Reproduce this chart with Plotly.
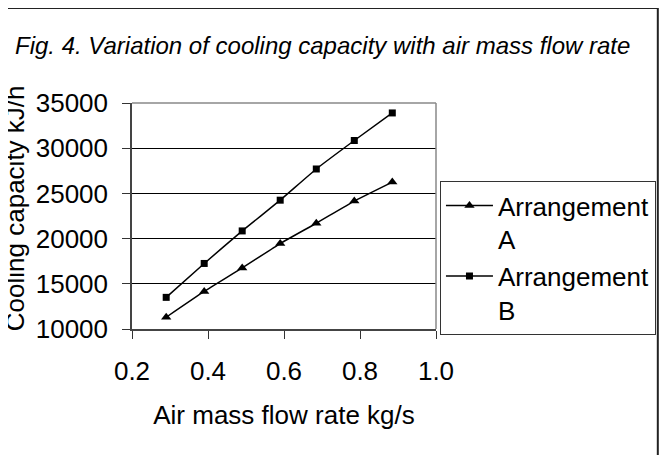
import plotly.graph_objects as go

# Data
flow_rate = [0.29, 0.39, 0.49, 0.59, 0.685, 0.785, 0.885]
arrangement_a = [11300, 14150, 16750, 19450, 21700, 24150, 26250]
arrangement_b = [13500, 17250, 20850, 24250, 27700, 30850, 33900]
x_ticks = [0.2, 0.4, 0.6, 0.8, 1.0]
x_tick_labels = ["0.2", "0.4", "0.6", "0.8", "1.0"]
y_ticks = [10000, 15000, 20000, 25000, 30000, 35000]
y_tick_labels = ["10000", "15000", "20000", "25000", "30000", "35000"]

# page body has an 8px margin, so the figure is offset by 8px
OFF = 8
W, H = 668 - OFF, 455 - OFF
L, R, T, B = 132 - OFF, 439 - OFF, 103 - OFF, 329 - OFF

def px(xp):
    return (xp - OFF - L) / (R - L)

def py(yp):
    return (B - (yp - OFF)) / (B - T)

FONT = "Liberation Sans, Arial, sans-serif"

fig = go.Figure()
fig.add_trace(go.Scatter(
    x=flow_rate, y=arrangement_a, name="Arrangement<br>A",
    mode="lines+markers",
    line=dict(color="black", width=1.5, shape="spline", smoothing=0.4),
    marker=dict(symbol="triangle-up", size=9, color="black"),
))
fig.add_trace(go.Scatter(
    x=flow_rate, y=arrangement_b, name="Arrangement<br>B",
    mode="lines+markers",
    line=dict(color="black", width=1.5, shape="spline", smoothing=0.4),
    marker=dict(symbol="square", size=7, color="black"),
))

fig.update_layout(
    width=W, height=H,
    margin=dict(l=L, r=W - R, t=T, b=H - B, pad=0),
    paper_bgcolor="white", plot_bgcolor="white",
    font=dict(family=FONT, size=26, color="black"),
    showlegend=True,
    legend=dict(
        x=px(443), y=py(181), xanchor="left", yanchor="top",
        bordercolor="#333", borderwidth=1, bgcolor="white",
        font=dict(size=26), valign="top", tracegroupgap=0,
        itemwidth=47,
    ),
    xaxis=dict(
        range=[0.2, 1.0], tickvals=x_ticks, ticktext=x_tick_labels,
        ticks="outside", ticklen=8, tickcolor="#333", tickwidth=1,
        tickfont=dict(size=26),
        showline=True, linecolor="#444", linewidth=1.5, mirror=False,
        showgrid=False, zeroline=False,
        title=dict(text="Air mass flow rate kg/s", standoff=21, font=dict(size=26)),
        ticklabelstandoff=10,
    ),
    yaxis=dict(
        range=[10000, 35000], tickvals=y_ticks, ticktext=y_tick_labels,
        ticks="outside", ticklen=8, tickcolor="#333", tickwidth=1,
        tickfont=dict(size=26),
        showline=True, linecolor="#444", linewidth=1.5,
        showgrid=True, gridcolor="black", gridwidth=1, zeroline=False,
        ticklabelstandoff=9,
    ),
    annotations=[
        dict(text="<i>Fig. 4. Variation of cooling capacity with air mass flow rate</i>",
             xref="paper", yref="paper", x=px(324), y=py(45),
             xanchor="center", yanchor="middle", showarrow=False,
             font=dict(size=24)),
        dict(text="Cooling capacity kJ/h", textangle=-90,
             xref="paper", yref="paper", x=px(14), y=py(208),
             xanchor="center", yanchor="middle", showarrow=False,
             font=dict(size=26)),
    ],
    shapes=[
        # plot area border (top and right)
        dict(type="line", xref="paper", yref="paper", x0=0, x1=1, y0=1, y1=1,
             line=dict(color="#888", width=1.5)),
        dict(type="line", xref="paper", yref="paper", x0=1, x1=1, y0=0, y1=1,
             line=dict(color="#888", width=1.5)),
        # outer chart frame (top and right visible)
        dict(type="line", xref="paper", yref="paper", x0=px(0), x1=px(663), y0=py(8), y1=py(8),
             line=dict(color="#222", width=2)),
        dict(type="line", xref="paper", yref="paper", x0=px(663), x1=px(663), y0=py(8), y1=py(455),
             line=dict(color="#222", width=2)),
    ],
)

fig.write_html("out.html")
